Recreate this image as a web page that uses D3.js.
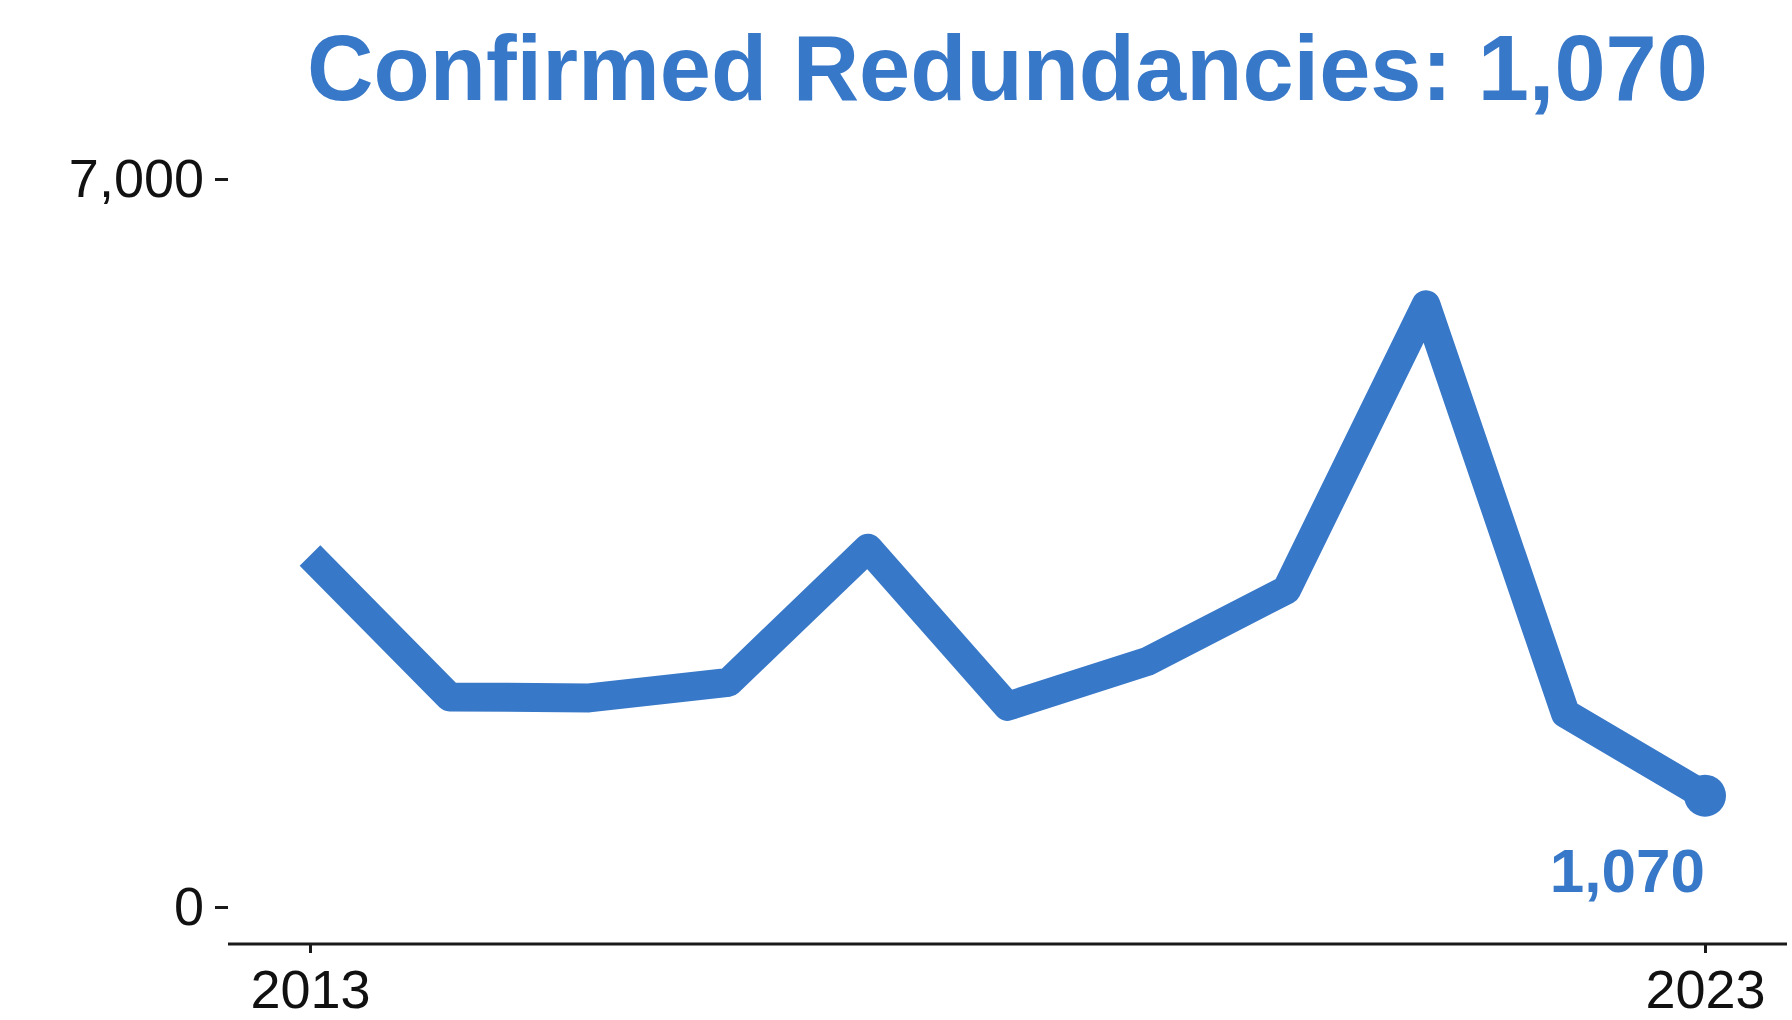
<!DOCTYPE html>
<html>
<head>
    <meta charset="utf-8">
    <title>Confirmed Redundancies</title>
    <script src="https://cdn.jsdelivr.net/npm/d3@7"></script>
    <style>
        body {
            margin: 0;
            background: #fff;
        }

        text {
            font-family: "Liberation Sans", Arial, sans-serif;
        }

        .axis text {
            font-size: 54px;
            fill: #111;
        }

        .axis line, .axis path {
            stroke: #1a1a1a;
            stroke-width: 3px;
        }
    </style>
</head>

<body>

<script type="text/javascript">
    // values
    var years = [2013, 2014, 2015, 2016, 2017, 2018, 2019, 2020, 2021, 2022, 2023];
    var redundancies = [3380, 2020, 2010, 2160, 3450, 1930, 2360, 3050, 5790, 1860, 1070];
    var yTicks = [0, 7000];
    var xTicks = [2013, 2023];
    var titleText = "Confirmed Redundancies: ";

    var width = 1792,
            height = 1020;

    var blue = "#3878c8";

    var svg = d3.select("body").append("svg")
            .attr("width", width)
            .attr("height", height);

    var x = d3.scaleLinear()
            .domain([2013, 2023])
            .range([310, 1705]);

    var y = d3.scaleLinear()
            .domain([0, 7000])
            .range([907, 179]);

    var fmt = d3.format(",");
    var data = years.map(function (yr, i) {
        return {year: yr, value: redundancies[i]};
    });
    var last = data[data.length - 1];

    // title
    svg.append("text")
            .attr("x", (228 + 1787) / 2)
            .attr("y", 100)
            .attr("text-anchor", "middle")
            .style("font-size", "92px")
            .style("font-weight", "bold")
            .style("fill", blue)
            .text(titleText + fmt(last.value));

    // y axis (ticks only, no line)
    var yAxis = svg.append("g")
            .attr("class", "axis")
            .attr("transform", "translate(228,0)")
            .call(d3.axisLeft(y)
                    .tickValues(yTicks)
                    .tickFormat(fmt)
                    .tickSize(13)
                    .tickPadding(11));
    yAxis.select(".domain").remove();

    // x axis, line runs the full panel width
    var xAxis = svg.append("g")
            .attr("class", "axis")
            .attr("transform", "translate(0,944)")
            .call(d3.axisBottom(x)
                    .tickValues(xTicks)
                    .tickFormat(d3.format("d"))
                    .tickSize(9)
                    .tickSizeOuter(0)
                    .tickPadding(17));
    xAxis.select(".domain").attr("d", "M228,0H1787");

    var line = d3.line()
            .x(function (d) { return x(d.year); })
            .y(function (d) { return y(d.value); });

    svg.append("path")
            .datum(data)
            .attr("d", line)
            .attr("fill", "none")
            .attr("stroke", blue)
            .attr("stroke-width", 29)
            .attr("stroke-linejoin", "round")
            .attr("stroke-linecap", "butt");

    svg.append("circle")
            .attr("cx", x(last.year))
            .attr("cy", y(last.value))
            .attr("r", 21)
            .attr("fill", blue);

    svg.append("text")
            .attr("x", x(last.year))
            .attr("y", y(last.value) + 96)
            .attr("text-anchor", "end")
            .style("font-size", "62px")
            .style("font-weight", "bold")
            .style("fill", blue)
            .text(fmt(last.value));
</script>

</body>

</html>
